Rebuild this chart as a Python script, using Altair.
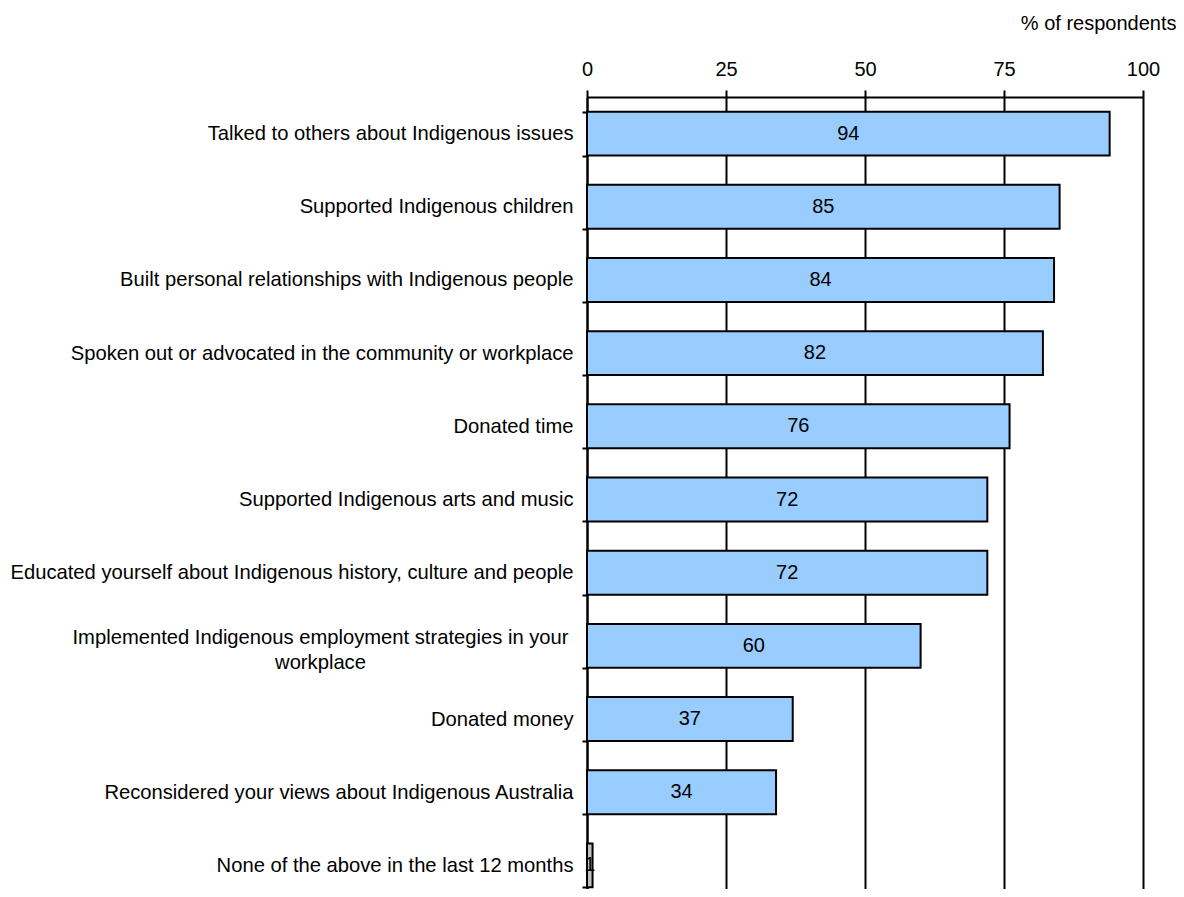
import altair as alt
import pandas as pd

categories = [
    "Talked to others about Indigenous issues",
    "Supported Indigenous children",
    "Built personal relationships with Indigenous people",
    "Spoken out or advocated in the community or workplace",
    "Donated time",
    "Supported Indigenous arts and music",
    "Educated yourself about Indigenous history, culture and people",
    "Implemented Indigenous employment strategies in your workplace",
    "Donated money",
    "Reconsidered your views about Indigenous Australia",
    "None of the above in the last 12 months",
]
values = [94, 85, 84, 82, 76, 72, 72, 60, 37, 34, 1]
x_ticks = [0, 25, 50, 75, 100]
axis_title = "% of respondents"

df = pd.DataFrame({"category": categories, "value": values})

WRAP = "Implemented Indigenous employment strategies in your workplace"
FONT = "Liberation Sans"
IS_WRAP = f"datum.value == '{WRAP}'"

y_enc = alt.Y(
    "category:N",
    sort=categories,
    scale=alt.Scale(paddingInner=0.4, paddingOuter=0.2, range=[0, 805]),
    axis=alt.Axis(
        title=None,
        orient="left",
        domain=True,
        domainColor="black",
        domainWidth=2,
        ticks=True,
        tickBand="extent",
        tickColor="black",
        tickWidth=2,
        tickSize=5,
        labelFont=FONT,
        labelFontSize=20.2,
        labelColor="black",
        labelLimit=700,
        labelLineHeight=25,
        labelAlign={"condition": {"test": IS_WRAP, "value": "center"}, "value": "right"},
        labelPadding={"condition": {"test": IS_WRAP, "value": 262}, "value": 9},
        labelOffset={"condition": {"test": IS_WRAP, "value": -8}, "value": 0},
        labelExpr=f"{IS_WRAP} ? ['Implemented Indigenous employment strategies in your', 'workplace'] : datum.label",
        grid=False,
    ),
)

x_enc = alt.X(
    "value:Q",
    scale=alt.Scale(domain=[0, 100], nice=False, zero=True),
    axis=alt.Axis(
        orient="top",
        values=x_ticks,
        title=axis_title,
        titleFont=FONT,
        titleFontSize=20,
        titleFontWeight="normal",
        titleColor="black",
        titleAlign="right",
        titleAnchor="end",
        titleBaseline="alphabetic",
        titleX=589,
        titleY=-68,
        labelFont=FONT,
        labelFontSize=20,
        labelColor="black",
        labelPadding=11,
        labelFlush=False,
        domain=True,
        domainColor="black",
        domainWidth=2,
        tickColor="black",
        tickWidth=2,
        tickSize=7,
        grid=True,
        gridColor="black",
        gridWidth=2,
        gridOpacity=1,
    ),
)

bars = alt.Chart(df).mark_bar(stroke="black", strokeWidth=2).encode(
    y=y_enc,
    x=x_enc,
    color=alt.condition(
        alt.datum.category == "None of the above in the last 12 months",
        alt.value("#C0C0C0"),
        alt.value("#99CCFF"),
    ),
)

labels = alt.Chart(df).transform_calculate(mid="datum.value / 2").mark_text(
    font=FONT, fontSize=20, color="black", align="center", baseline="middle"
).encode(
    y=alt.Y("category:N", sort=categories),
    x=alt.X("mid:Q"),
    text=alt.Text("value:Q"),
)

chart = (
    alt.layer(bars, labels)
    .properties(
        width=556,
        height=792,
        autosize=alt.AutoSizeParams(type="none"),
        padding={"left": 579, "top": 89, "right": 33, "bottom": 0},
        background="white",
    )
    .configure_view(stroke=None)
)

chart.save("out.html", embed_options={"renderer": "svg", "actions": False})
